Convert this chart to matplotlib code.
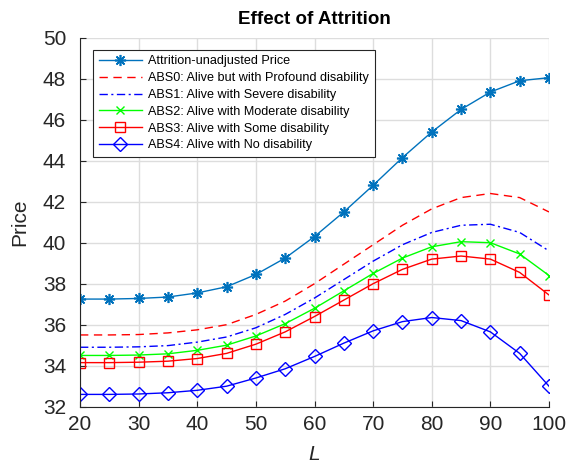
import matplotlib
matplotlib.use("Agg")
import matplotlib.pyplot as plt
import numpy as np

plt.rcParams['font.family'] = ['Liberation Sans', 'DejaVu Sans']

L = [20, 25, 30, 35, 40, 45, 50, 55, 60, 65, 70, 75, 80, 85, 90, 95, 100]
unadjusted = [37.25, 37.25, 37.28, 37.35, 37.55, 37.85, 38.45, 39.25, 40.3, 41.5, 42.8, 44.15, 45.4, 46.5, 47.35, 47.9, 48.05]
abs0 = [35.5, 35.5, 35.52, 35.6, 35.75, 36.0, 36.5, 37.15, 38.0, 38.95, 39.9, 40.85, 41.65, 42.2, 42.4, 42.2, 41.5]
abs1 = [34.9, 34.9, 34.92, 34.98, 35.15, 35.4, 35.85, 36.5, 37.3, 38.2, 39.1, 39.9, 40.5, 40.85, 40.9, 40.5, 39.6]
abs2 = [34.5, 34.5, 34.52, 34.58, 34.75, 35.0, 35.45, 36.05, 36.8, 37.65, 38.5, 39.25, 39.8, 40.05, 40.0, 39.45, 38.4]
abs3 = [34.15, 34.15, 34.17, 34.22, 34.35, 34.6, 35.05, 35.65, 36.4, 37.2, 38.0, 38.7, 39.2, 39.35, 39.2, 38.55, 37.45]
abs4 = [32.6, 32.6, 32.62, 32.68, 32.8, 33.0, 33.4, 33.85, 34.45, 35.1, 35.7, 36.15, 36.35, 36.2, 35.65, 34.6, 33.0]

labels = ['Attrition-unadjusted Price',
          'ABS0: Alive but with Profound disability',
          'ABS1: Alive with Severe disability',
          'ABS2: Alive with Moderate disability',
          'ABS3: Alive with Some disability',
          'ABS4: Alive with No disability']
xticks = [20, 30, 40, 50, 60, 70, 80, 90, 100]
yticks = [32, 34, 36, 38, 40, 42, 44, 46, 48, 50]

fig = plt.figure(figsize=(5.67, 4.69), dpi=100)
ax = fig.add_axes([80/567, 1-406.7/469, (549-80)/567, (406.7-37.7)/469])

ax.plot(L, unadjusted, color='#0072BD', marker=(8, 2, 0), markersize=8, mew=1.2, lw=1, label=labels[0])
ax.plot(L, abs0, color='#FF0000', ls=(0, (6, 4)), lw=1, label=labels[1])
ax.plot(L, abs1, color='#0000FF', ls=(0, (6, 2.5, 1.5, 2.5)), lw=1, label=labels[2])
ax.plot(L, abs2, color='#00FF00', marker='x', markersize=6, mew=1, lw=1, label=labels[3])
ax.plot(L, abs3, color='#FF0000', marker='s', markersize=7, mfc='none', mew=1, lw=1, label=labels[4])
ax.plot(L, abs4, color='#0000FF', marker='D', markersize=7, mfc='none', mew=1, lw=1, label=labels[5])

ax.set_xlim(20, 100)
ax.set_ylim(32, 50)
ax.set_xticks(xticks)
ax.set_yticks(yticks)
ax.grid(True, color='#DDDDDD', lw=1)
ax.set_axisbelow(True)
for s in ['top', 'right']:
    ax.spines[s].set_visible(False)
for s in ['left', 'bottom']:
    ax.spines[s].set_color('#262626')
ax.tick_params(direction='in', length=4, labelsize=15, colors='#262626')
ax.tick_params(axis='x', pad=6)
ax.tick_params(axis='y', pad=10)

ax.set_title('Effect of Attrition', fontsize=13.5, fontweight='bold', pad=10)
ax.set_xlabel('L', fontsize=15, style='italic', color='#262626', labelpad=8)
ax.set_ylabel('Price', fontsize=15, color='#262626', labelpad=10)

leg = ax.legend(loc='upper left', bbox_to_anchor=(13/469, 1-12/369), fontsize=9.1,
                handlelength=3.4, handletextpad=0.5, borderpad=0.45, labelspacing=0.38,
                fancybox=False, framealpha=1, edgecolor='#262626', borderaxespad=0)
leg.get_frame().set_linewidth(0.8)

fig.savefig('out.png', dpi=100)
